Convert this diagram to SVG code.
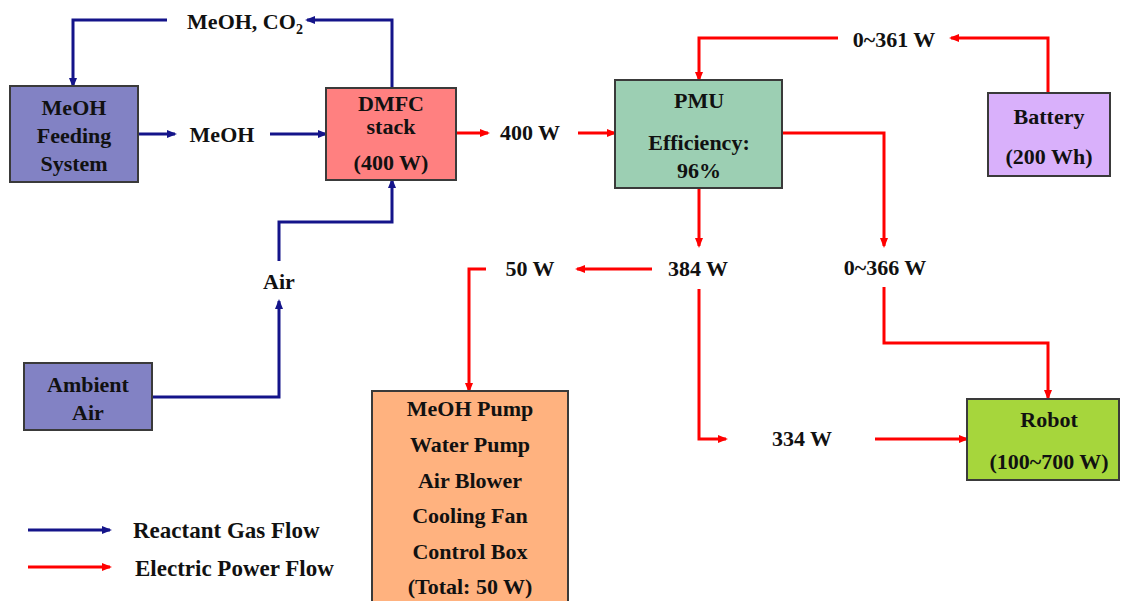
<svg xmlns="http://www.w3.org/2000/svg" width="1121" height="601" viewBox="0 0 1121 601">
<defs>
<marker id="ab" viewBox="0 0 10 8" refX="8" refY="4" markerWidth="10" markerHeight="8" markerUnits="userSpaceOnUse" orient="auto"><path d="M0,0 L10,4 L0,8 z" fill="#14148a"/></marker>
<marker id="ar" viewBox="0 0 10 8" refX="8" refY="4" markerWidth="10" markerHeight="8" markerUnits="userSpaceOnUse" orient="auto"><path d="M0,0 L10,4 L0,8 z" fill="#ff0000"/></marker>
<style>
text{font-family:"Liberation Serif","DejaVu Serif",serif;font-weight:bold;font-size:22px;fill:#111;text-anchor:middle}
.box{stroke:#3a3a3a;stroke-width:2}
.b{fill:none;stroke:#14148a;stroke-width:3;marker-end:url(#ab)}
.r{fill:none;stroke:#ff0000;stroke-width:3;marker-end:url(#ar)}
.lg{text-anchor:start;font-size:23px}
</style>
</defs>
<rect width="1121" height="601" fill="#ffffff"/>

<g id="connectors">
<path class="b" d="M392,88 V20 H307"/>
<path class="b" d="M167,20 H73 V86"/>
<path class="b" d="M138,134 H175"/>
<path class="b" d="M270,134 H326"/>
<path class="b" d="M152,397 H279 V301"/>
<path class="b" d="M279,261 V222 H392 V180"/>
<path class="r" d="M456,133 H488"/>
<path class="r" d="M578,133 H615"/>
<path class="r" d="M1048,93 V38 H951"/>
<path class="r" d="M838,38 H699 V80"/>
<path class="r" d="M782,133 H884 V246"/>
<path class="r" d="M699,188 V246"/>
<path class="r" d="M652,269 H577"/>
<path class="r" d="M486,269 H469 V391"/>
<path class="r" d="M699,289 V439 H726"/>
<path class="r" d="M884,287 V343 H1048 V398"/>
<path class="r" d="M875,439 H967"/>
</g>

<g id="labels">
<text x="245" y="29">MeOH, CO<tspan font-size="14" dy="5">2</tspan></text>
<text x="222" y="142">MeOH</text>
<text x="530" y="140">400 W</text>
<text x="894" y="47">0~361 W</text>
<text x="698" y="276">384 W</text>
<text x="530" y="276">50 W</text>
<text x="885" y="275">0~366 W</text>
<text x="802" y="446">334 W</text>
<text x="279" y="289">Air</text>
</g>

<g id="meoh-feeding">
<rect class="box" x="10" y="86" width="128" height="96" fill="#8282c4"/>
<text x="74" y="115">MeOH</text>
<text x="74" y="143">Feeding</text>
<text x="74" y="171">System</text>
</g>

<g id="dmfc">
<rect class="box" x="326" y="88" width="130" height="92" fill="#ff8080"/>
<text x="391" y="111" font-size="19">DMFC</text>
<text x="391" y="134" font-size="19">stack</text>
<text x="391" y="170">(400 W)</text>
</g>

<g id="pmu">
<rect class="box" x="615" y="80" width="167" height="108" fill="#9ccfb3"/>
<text x="699" y="108">PMU</text>
<text x="699" y="150">Efficiency:</text>
<text x="699" y="178">96%</text>
</g>

<g id="battery">
<rect class="box" x="988" y="93" width="122" height="83" fill="#d9b0fb"/>
<text x="1049" y="124">Battery</text>
<text x="1049" y="164">(200 Wh)</text>
</g>

<g id="ambient-air">
<rect class="box" x="24" y="363" width="128" height="67" fill="#8282c4"/>
<text x="88" y="392">Ambient</text>
<text x="88" y="420">Air</text>
</g>

<g id="loads">
<rect class="box" x="372" y="391" width="196" height="215" fill="#ffb27f"/>
<text x="470" y="416">MeOH Pump</text>
<text x="470" y="452">Water Pump</text>
<text x="470" y="488">Air Blower</text>
<text x="470" y="523">Cooling Fan</text>
<text x="470" y="559">Control Box</text>
<text x="470" y="594">(Total: 50 W)</text>
</g>

<g id="robot">
<rect class="box" x="967" y="399" width="152" height="81" fill="#a6d63c"/>
<text x="1049" y="427">Robot</text>
<text x="1049" y="469">(100~700 W)</text>
</g>

<g id="legend">
<path class="b" d="M28,530 H110"/>
<text class="lg" x="133" y="538">Reactant Gas Flow</text>
<path class="r" d="M28,567 H110"/>
<text class="lg" x="135" y="576">Electric Power Flow</text>
</g>
</svg>
